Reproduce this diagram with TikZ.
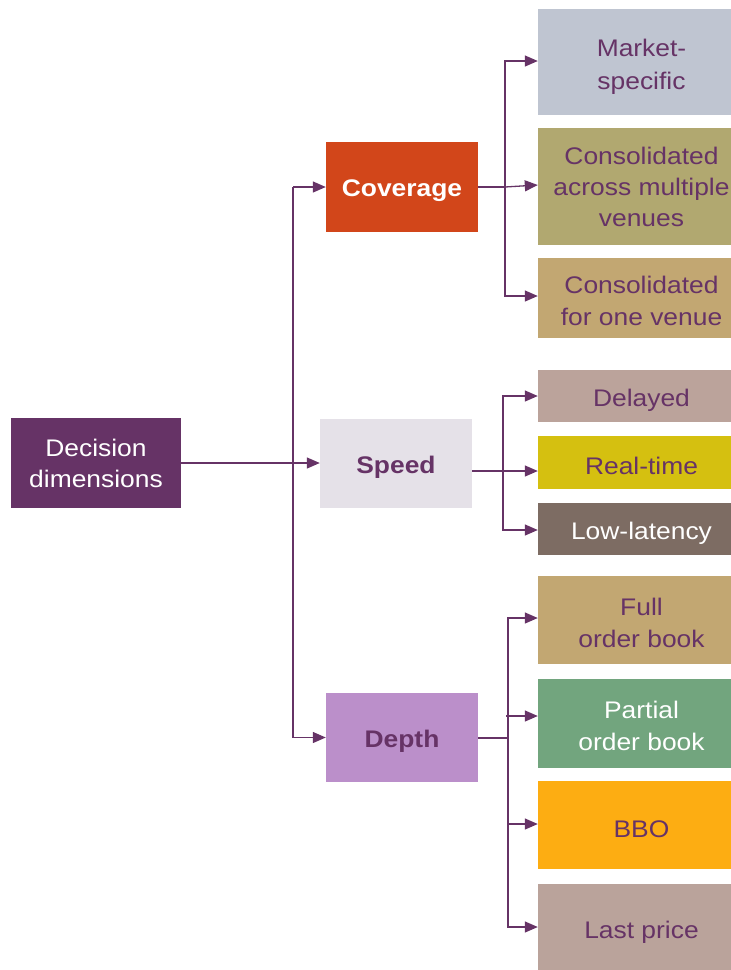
\documentclass[tikz,border=0pt]{standalone}
\usepackage{fontspec}
\setmainfont{Liberation Sans}[FakeStretch=1.1]
\usetikzlibrary{arrows.meta}
\definecolor{plum}{HTML}{663366}
\definecolor{cCov}{HTML}{D2461A}
\definecolor{cSpd}{HTML}{E5E1E8}
\definecolor{cDep}{HTML}{BB8FCA}
\definecolor{cMs}{HTML}{BFC5D1}
\definecolor{cCa}{HTML}{B1A870}
\definecolor{cCo}{HTML}{C2A772}
\definecolor{cDel}{HTML}{BBA39B}
\definecolor{cRt}{HTML}{D5C010}
\definecolor{cLl}{HTML}{7D6C63}
\definecolor{cFob}{HTML}{C2A772}
\definecolor{cPob}{HTML}{72A57E}
\definecolor{cBbo}{HTML}{FDAD12}
\definecolor{cLp}{HTML}{BAA39B}
\newcommand\mlines[2][0pt]{\raisebox{-#1}[\height][\depth]{\begin{tabular}{@{}c@{}}#2\end{tabular}}}
\tikzset{
  box/.style={rectangle, inner sep=0pt, align=center, text=plum,
    font=\fontsize{24}{31}\selectfont},
  one/.style={box, execute at begin node={\rule{0pt}{25pt}}},
  two/.style={box, font=\fontsize{24}{32.5}\selectfont},
  leaf/.style={box, minimum width=207pt},
  leaftwo/.style={two, minimum width=207pt},
  leafone/.style={one, minimum width=207pt},
  arr/.style={draw=plum, line width=1.3pt, -{Triangle[length=13pt,width=11pt]}},
  ln/.style={draw=plum, line width=1.3pt}
}
\begin{document}
\begin{tikzpicture}[x=1pt,y=-1pt]
\useasboundingbox (0,0) rectangle (731,970);
\clip (0,0) rectangle (731,970);
% main nodes
\node[box, fill=plum, text=white, minimum width=170pt, minimum height=90pt] (dd) at (96,463) {Decision\\dimensions};
\node[one, fill=cCov, text=white, font=\fontsize{24}{31}\selectfont\bfseries, minimum width=152pt, minimum height=90pt] (cov) at (402,187) {Coverage};
\node[one, fill=cSpd, font=\fontsize{24}{31}\selectfont\bfseries, minimum width=152pt, minimum height=89pt] (sp) at (396,463.5) {Speed};
\node[one, fill=cDep, font=\fontsize{24}{31}\selectfont\bfseries, minimum width=152pt, minimum height=89pt] (dep) at (402,737.5) {Depth};
% leaves
\node[leaftwo, fill=cMs, minimum height=106pt] (ms) at (641.5,62) {\mlines[4.5pt]{Market-\\specific}};
\node[leaf, fill=cCa, minimum height=117pt] (ca) at (641.5,186.5) {Consolidated\\across multiple\\venues};
\node[leaftwo, fill=cCo, minimum height=80pt] (co) at (641.5,298) {\mlines[5pt]{Consolidated\\for one venue}};
\node[leafone, fill=cDel, minimum height=52pt] (del) at (641.5,396) {Delayed};
\node[leafone, fill=cRt, minimum height=53pt] (rt) at (641.5,462.5) {Real-time};
\node[leafone, fill=cLl, text=white, minimum height=52pt] (ll) at (641.5,529) {Low-latency};
\node[leaftwo, fill=cFob, minimum height=88pt] (fob) at (641.5,620) {\mlines[5pt]{Full\\order book}};
\node[leaftwo, fill=cPob, text=white, minimum height=89pt] (pob) at (641.5,723.5) {\mlines[4.5pt]{Partial\\order book}};
\node[leafone, fill=cBbo, minimum height=88pt] (bbo) at (641.5,825) {BBO};
\node[leafone, fill=cLp, minimum height=88pt] (lp) at (641.5,928) {Last price};
% branch points
\coordinate (trunk) at (293,463);
\coordinate (cb) at (505,187);
\coordinate (sb) at (503,471);
\coordinate (db) at (508,738);
% decision connectors
\draw[arr] (dd.east) -- (dd.east -| sp.west);
\draw[ln] (trunk |- cov.west) -- (trunk |- dep.west);
\draw[arr] (trunk |- cov.west) -- (cov.west);
\draw[arr] (trunk |- dep.west) -- (dep.west);
% coverage
\draw[ln] (cov.east) -- (cb);
\draw[arr] (cb) |- ([yshift=1pt]ms.west);
\draw[arr] (cb) -- ([yshift=1.5pt]ca.west);
\draw[arr] (cb) |- ([yshift=2pt]co.west);
% speed
\draw[ln] (sp.east |- sb) -- (sb);
\draw[arr] (sb) |- (del.west);
\draw[arr] (sb) -- (sb -| rt.west);
\draw[arr] (sb) |- ([yshift=-1pt]ll.west);
% depth
\draw[ln] (dep.east |- db) -- (db);
\draw[arr] (db) |- ([yshift=2pt]fob.west);
\draw[arr] ([xshift=-2pt]db |- 0,716) -- (pob.west |- 0,716);
\draw[arr] (db) |- ([yshift=1pt]bbo.west);
\draw[arr] (db) |- ([yshift=1pt]lp.west);
\end{tikzpicture}
\end{document}
